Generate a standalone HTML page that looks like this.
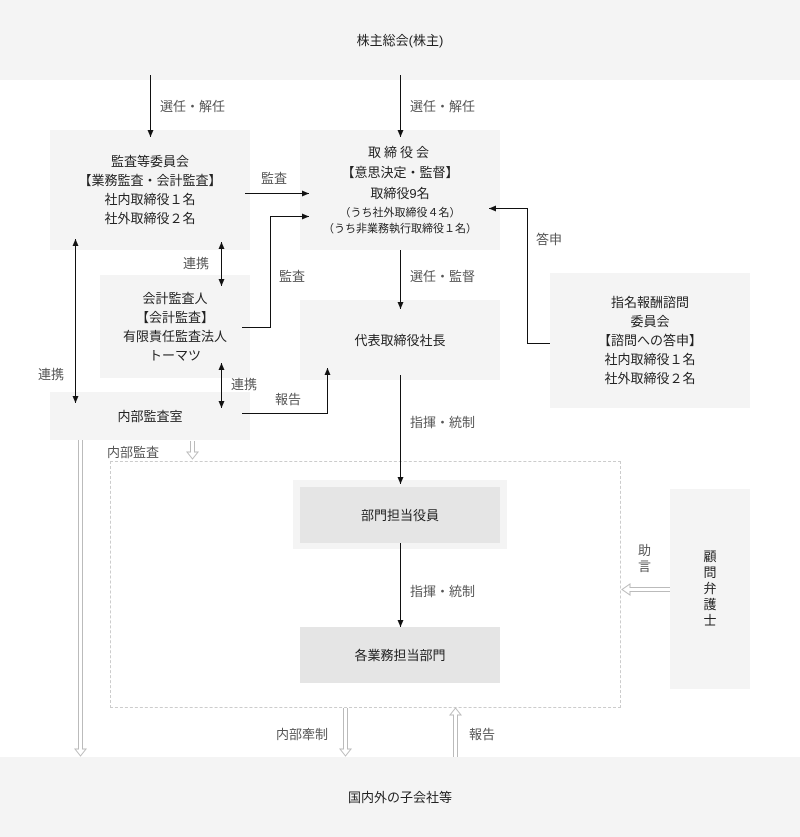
<!DOCTYPE html>
<html><head><meta charset="utf-8"><style>
body{margin:0;width:800px;height:837px;position:relative;background:#fff;font-family:"Liberation Sans","Noto Sans CJK JP",sans-serif;color:#222;font-size:13px;overflow:hidden}
.b{position:absolute;background:#f4f4f4;display:flex;flex-direction:column;align-items:center;justify-content:center;text-align:center;line-height:19px}
.d{background:#e5e5e5}
.l{position:absolute;color:#555;font-size:13px;white-space:nowrap}
svg{position:absolute;left:0;top:0}
</style></head><body>
<div class="b" style="left:0;top:0;width:800px;height:80px">株主総会(株主)</div>
<div class="b" style="left:50px;top:130px;width:200px;height:120px">監査等委員会<br>【業務監査・会計監査】<br>社内取締役１名<br>社外取締役２名</div>
<div class="b" style="left:300px;top:130px;width:200px;height:120px"><span style="letter-spacing:3px;line-height:20px">取締役会</span><span style="line-height:20px">【意思決定・監督】</span><span style="line-height:22px">取締役9名</span><span style="font-size:11px;line-height:16px">（うち社外取締役４名）<br>（うち非業務執行取締役１名）</span></div>
<div class="b" style="left:100px;top:275px;width:150px;height:103px">会計監査人<br>【会計監査】<br>有限責任監査法人<br>トーマツ</div>
<div class="b" style="left:300px;top:300px;width:200px;height:80px">代表取締役社長</div>
<div class="b" style="left:550px;top:273px;width:200px;height:135px">指名報酬諮問<br>委員会<br>【諮問への答申】<br>社内取締役１名<br>社外取締役２名</div>
<div class="b" style="left:50px;top:392px;width:200px;height:48px">内部監査室</div>
<div style="position:absolute;left:110px;top:461px;width:509px;height:245px;border:1px dashed #ccc"></div>
<div class="b" style="left:293px;top:480px;width:214px;height:69px"></div>
<div class="b d" style="left:300px;top:487px;width:200px;height:56px">部門担当役員</div>
<div class="b d" style="left:300px;top:627px;width:200px;height:56px">各業務担当部門</div>
<div class="b" style="left:670px;top:489px;width:80px;height:200px;line-height:16px">顧<br>問<br>弁<br>護<br>士</div>
<div class="b" style="left:0;top:757px;width:800px;height:80px">国内外の子会社等</div>

<div class="l" style="left:160px;top:96px">選任・解任</div>
<div class="l" style="left:410px;top:96px">選任・解任</div>
<div class="l" style="left:261px;top:168px">監査</div>
<div class="l" style="left:279px;top:266px">監査</div>
<div class="l" style="left:183px;top:253px">連携</div>
<div class="l" style="left:38px;top:364px">連携</div>
<div class="l" style="left:231px;top:374px">連携</div>
<div class="l" style="left:275px;top:389px">報告</div>
<div class="l" style="left:410px;top:266px">選任・監督</div>
<div class="l" style="left:536px;top:229px">答申</div>
<div class="l" style="left:410px;top:412px">指揮・統制</div>
<div class="l" style="left:410px;top:581px">指揮・統制</div>
<div class="l" style="left:107px;top:442px">内部監査</div>
<div class="l" style="left:638px;top:543px;line-height:16px">助<br>言</div>
<div class="l" style="left:276px;top:724px">内部牽制</div>
<div class="l" style="left:469px;top:724px">報告</div>

<svg width="800" height="837">
<defs><marker id="a" markerWidth="8" markerHeight="8" refX="7" refY="4" orient="auto-start-reverse" markerUnits="userSpaceOnUse"><path d="M0,1 L7,4 L0,7z" fill="#111"/></marker></defs>
<g stroke="#111" stroke-width="1" fill="none">
<line x1="150.5" y1="75" x2="150.5" y2="137" marker-end="url(#a)"/>
<line x1="400.5" y1="75" x2="400.5" y2="137" marker-end="url(#a)"/>
<line x1="245" y1="193.5" x2="309" y2="193.5" marker-end="url(#a)"/>
<polyline points="242,327.5 270.5,327.5 270.5,216.5 309,216.5" marker-end="url(#a)"/>
<line x1="221.5" y1="242" x2="221.5" y2="286" marker-start="url(#a)" marker-end="url(#a)"/>
<line x1="75.5" y1="239" x2="75.5" y2="403" marker-start="url(#a)" marker-end="url(#a)"/>
<line x1="221.5" y1="363" x2="221.5" y2="408" marker-start="url(#a)" marker-end="url(#a)"/>
<polyline points="242,413.5 327.5,413.5 327.5,368" marker-end="url(#a)"/>
<line x1="400.5" y1="250" x2="400.5" y2="309" marker-end="url(#a)"/>
<polyline points="550,343.5 527.5,343.5 527.5,208.5 489,208.5" marker-end="url(#a)"/>
<line x1="400.5" y1="375" x2="400.5" y2="484" marker-end="url(#a)"/>
<line x1="400.5" y1="543" x2="400.5" y2="627" marker-end="url(#a)"/>
</g>
<g stroke="#bbb" stroke-width="1" fill="#fff">
<path d="M78.5,440 V749 H75 L80.5,756 L86,749 H82.5 V440"/>
<path d="M190.5,441 V452 H187 L192.5,459 L198,452 H194.5 V441"/>
<path d="M343.5,708 V749 H340 L345.5,756 L351,749 H347.5 V708"/>
<path d="M453.5,757 V715 H450 L455.5,708 L461,715 H457.5 V757"/>
<path d="M670,587.5 H630 V584 L622,589.5 L630,595 V591.5 H670"/>
</g>
</svg>
</body></html>
